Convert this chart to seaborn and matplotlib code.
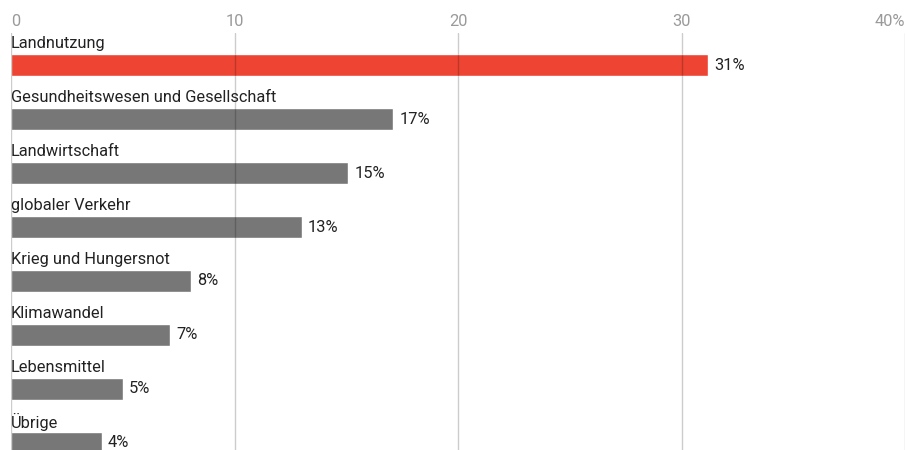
import matplotlib
matplotlib.use("Agg")
import matplotlib.pyplot as plt
import seaborn as sns
import pandas as pd

# Daten aus der Grafik (Balkenlängen geschätzt, Beschriftung gerundet)
categories = [
    "Landnutzung",
    "Gesundheitswesen und Gesellschaft",
    "Landwirtschaft",
    "globaler Verkehr",
    "Krieg und Hungersnot",
    "Klimawandel",
    "Lebensmittel",
    "Übrige",
]
values = [31.2, 17.1, 15.1, 13.0, 8.05, 7.1, 5.0, 4.05]
value_labels = ["31%", "17%", "15%", "13%", "8%", "7%", "5%", "4%"]
groups = ["top"] + ["rest"] * 7
tick_values = [0, 10, 20, 30, 40]
tick_labels = ["0", "10", "20", "30", "40%"]

sns.set_theme(style="white")
plt.rcParams['font.family'] = ['Roboto', 'DejaVu Sans']

df = pd.DataFrame({"kategorie": categories, "wert": values, "gruppe": groups})

fig = plt.figure(figsize=(9.06, 4.5), dpi=100)
ax = fig.add_axes([11 / 906, 0, 894 / 906, 417 / 450])

sns.barplot(data=df, x="wert", y="kategorie", hue="gruppe",
            palette={"top": "#ee4433", "rest": "#777777"},
            orient="h", width=0.407, dodge=False, legend=False,
            saturation=1, ax=ax)

ax.set_xlim(0, 40)
ax.set_ylim(7.13, -0.593)

ax.set_xticks(tick_values)
ax.set_xticklabels(tick_labels)
ax.xaxis.tick_top()
ax.tick_params(axis='x', length=0, pad=3, labelsize=11.8, labelcolor='#9a9a9a')
tl = ax.get_xticklabels()
tl[0].set_ha('left')
tl[-1].set_ha('right')
ax.set_yticks([])
ax.set_xlabel('')
ax.set_ylabel('')
for s in ax.spines.values():
    s.set_visible(False)

ax.set_axisbelow(False)
ax.xaxis.grid(True, color='black', alpha=0.2, linewidth=1)

for i, (cat, v, lab) in enumerate(zip(categories, values, value_labels)):
    ax.text(0, i - 0.39, cat, ha='left', va='center', fontsize=11.8, color='#222222')
    ax.annotate(lab, (v, i), xytext=(4.5, 0), textcoords='offset points',
                ha='left', va='center', fontsize=11.8, color='#222222')

fig.savefig("out.png", dpi=100)
